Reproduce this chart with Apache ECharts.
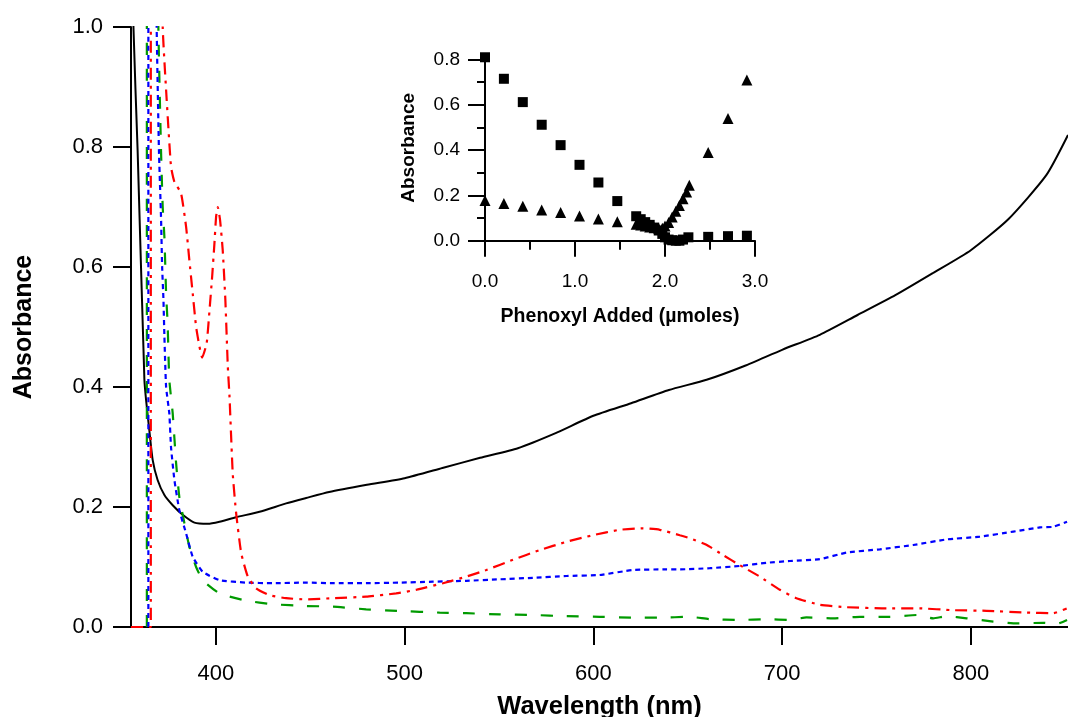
<!DOCTYPE html>
<html><head><meta charset="utf-8">
<script src="https://cdn.jsdelivr.net/npm/echarts@6/dist/echarts.min.js"></script>
<style>html,body{margin:0;padding:0;background:#fff}#c{width:1068px;height:717px}</style>
</head><body><div id="c"></div>
<script>
// ---- main chart ticks ----
const wavelengthTicks = [400, 500, 600, 700, 800];
const absorbanceTicks = [0, 0.2, 0.4, 0.6, 0.8, 1.0];
// ---- inset ticks ----
const insetXTicks = [0, 1, 2, 3];
const insetYTicks = [0, 0.2, 0.4, 0.6, 0.8];
const insetYMinorTicks = [0.1, 0.3, 0.5, 0.7];

// ---- main spectra [wavelength nm, absorbance] ----
const blackSpectrum = [[355,1.3],[356.3,1.0],[358.5,0.795],[362.1,0.412],[363.0,0.378],[364.7,0.328],[366.5,0.278],[369.1,0.245],[372.7,0.22],[377.1,0.203],[382.4,0.187],[388.6,0.174],[395.7,0.172],[401.9,0.1755],[410.7,0.183],[423.1,0.192],[437.2,0.206],[447.8,0.215],[460,0.225],[480,0.237],[500,0.248],[520,0.265],[540,0.282],[560,0.298],[580,0.323],[600,0.352],[620,0.373],[640,0.395],[660,0.412],[680,0.435],[700,0.462],[720,0.487],[740,0.52],[760,0.553],[780,0.59],[800,0.628],[820,0.68],[840,0.753],[851.5,0.82]];

const greenSpectrum = [[363.4,0],[363.4,1.3],[368.8,1.3],[369.5,1.0],[370.9,0.795],[371.8,0.70],[372.7,0.65],[373.6,0.556],[374.4,0.506],[375.3,0.412],[377.1,0.356],[378.9,0.273],[380.6,0.217],[383.3,0.173],[385.9,0.134],[389.5,0.1],[393.0,0.078],[401.9,0.056],[416.0,0.044],[430.1,0.038],[447.8,0.035],[461.9,0.034],[479.6,0.0295],[497.3,0.0267],[518.5,0.024],[532.7,0.023],[550.3,0.021],[568.0,0.02],[585.7,0.018],[603.3,0.017],[621,0.0155],[635.2,0.0155],[651.1,0.017],[661.7,0.013],[677.6,0.0117],[691.7,0.013],[704.1,0.0117],[712.9,0.016],[727,0.0145],[741.2,0.017],[757.1,0.017],[771.3,0.02],[780.1,0.0145],[787.2,0.018],[797.8,0.0145],[811.9,0.009],[824.3,0.006],[838.4,0.007],[845.5,0.005],[851,0.0117]];

const blueSpectrum = [[364.2,0],[364.2,1.3],[367.9,1.3],[368.6,1.0],[369.8,0.795],[370.9,0.684],[371.5,0.6],[372.2,0.545],[372.7,0.484],[373.6,0.4],[375.3,0.356],[376.2,0.3],[378.0,0.245],[380.6,0.195],[384.2,0.156],[387.7,0.117],[393.0,0.092],[401.9,0.078],[416.0,0.074],[430.1,0.073],[447.8,0.074],[461.9,0.073],[479.6,0.073],[497.3,0.074],[515,0.0755],[532.7,0.077],[550.3,0.0795],[568,0.082],[585.7,0.085],[603.3,0.0867],[621,0.095],[638.7,0.096],[645.8,0.096],[661.7,0.098],[677.6,0.1017],[691.7,0.107],[704.1,0.11],[720,0.113],[734.1,0.124],[751.8,0.1295],[769.5,0.1367],[787.2,0.146],[804.8,0.1505],[822.5,0.159],[836.6,0.166],[843.7,0.167],[851,0.1755]];

const redSpectrum = [[355,0],[365.5,0],[365.5,1.3],[371.2,1.3],[371.8,1.0],[373.6,0.895],[376.2,0.767],[378.0,0.742],[381.5,0.723],[384.2,0.667],[385.9,0.612],[387.7,0.556],[389.5,0.5],[391.3,0.467],[392.7,0.449],[395.1,0.473],[396.6,0.528],[398.0,0.584],[399.2,0.639],[400.1,0.684],[401.0,0.70],[402.2,0.678],[403.6,0.628],[405.0,0.545],[406.3,0.434],[407.2,0.384],[408.9,0.256],[410.7,0.19],[413.4,0.123],[416.9,0.084],[421.3,0.0645],[428.4,0.053],[437.2,0.048],[447.8,0.046],[461.9,0.048],[479.6,0.0505],[495.5,0.056],[506.2,0.062],[520.3,0.073],[532.7,0.084],[543.3,0.095],[557.4,0.112],[571.5,0.128],[585.7,0.142],[599.8,0.153],[613.9,0.162],[626.3,0.1645],[635.2,0.162],[645.8,0.153],[651.1,0.148],[659.9,0.137],[668.7,0.12],[677.6,0.103],[688.2,0.084],[698.8,0.062],[707.6,0.048],[720,0.037],[734.1,0.033],[755.4,0.031],[773,0.031],[790.7,0.028],[808.4,0.027],[829.6,0.024],[843.7,0.023],[850.8,0.031]];

// ---- inset titration [phenoxyl added (umol), absorbance] ----
const insetSquares = [[0.00,0.81],[0.21,0.715],[0.42,0.612],[0.63,0.512],[0.84,0.422],[1.05,0.335],[1.26,0.257],[1.47,0.175],[1.68,0.108],[1.73,0.095],[1.78,0.082],[1.83,0.07],[1.88,0.058],[1.93,0.045],[1.97,0.03],[2.00,0.015],[2.04,0.005],[2.08,0.002],[2.12,0.0],[2.16,0.0],[2.20,0.005],[2.26,0.015],[2.48,0.017],[2.70,0.02],[2.91,0.022]];
const insetTriangles = [[0.00,0.177],[0.21,0.164],[0.42,0.152],[0.63,0.136],[0.84,0.124],[1.05,0.109],[1.26,0.096],[1.47,0.084],[1.68,0.073],[1.73,0.069],[1.78,0.065],[1.83,0.06],[1.88,0.057],[1.93,0.055],[1.97,0.055],[2.00,0.065],[2.04,0.08],[2.08,0.105],[2.12,0.13],[2.16,0.155],[2.20,0.185],[2.24,0.215],[2.27,0.245],[2.48,0.39],[2.70,0.54],[2.91,0.71]];

const FONT = "'Liberation Sans', Arial, sans-serif";
const chart = echarts.init(document.getElementById('c'), null, {renderer: 'canvas'});
const axisLine = {show: true, onZero: false, lineStyle: {color: '#000', width: 2}};

chart.setOption({
  animation: false,
  backgroundColor: '#fff',
  grid: [
    {left: 131, right: 0, top: 27, bottom: 90, containLabel: false, outerBoundsMode: 'none'},
    {left: 485, top: 55, width: 270, height: 185.7, containLabel: false, outerBoundsMode: 'none'}
  ],
  xAxis: [
    {
      type: 'value', gridIndex: 0, min: 355, max: 851.5,
      name: 'Wavelength (nm)', nameLocation: 'middle', nameGap: 67,
      nameTextStyle: {fontFamily: FONT, fontSize: 25.5, fontWeight: 'bold', color: '#000'},
      axisLine: axisLine,
      axisTick: {show: true, inside: false, length: 18, customValues: wavelengthTicks, lineStyle: {color: '#000', width: 2}},
      axisLabel: {show: true, customValues: wavelengthTicks, margin: 36, fontFamily: FONT, fontSize: 22, color: '#000'},
      splitLine: {show: false}
    },
    {
      type: 'value', gridIndex: 1, min: 0, max: 3, interval: 1,
      name: 'Phenoxyl Added (\u00b5moles)', nameLocation: 'middle', nameGap: 66,
      nameTextStyle: {fontFamily: FONT, fontSize: 19.5, fontWeight: 'bold', color: '#000'},
      axisLine: axisLine,
      axisTick: {show: true, length: 16, lineStyle: {color: '#000', width: 2}},
      minorTick: {show: true, splitNumber: 2, length: 9, lineStyle: {color: '#000', width: 2}},
      axisLabel: {margin: 32, fontFamily: FONT, fontSize: 19, color: '#000', formatter: v => v.toFixed(1)},
      splitLine: {show: false}, minorSplitLine: {show: false}
    }
  ],
  yAxis: [
    {
      type: 'value', gridIndex: 0, min: 0, max: 1.0, interval: 0.2,
      name: 'Absorbance', nameLocation: 'middle', nameGap: 94,
      nameTextStyle: {fontFamily: FONT, fontSize: 25, fontWeight: 'bold', color: '#000'},
      axisLine: axisLine,
      axisTick: {show: true, length: 18, customValues: absorbanceTicks, lineStyle: {color: '#000', width: 2}},
      axisLabel: {customValues: absorbanceTicks, margin: 28, fontFamily: FONT, fontSize: 22, color: '#000', formatter: v => v.toFixed(1)},
      splitLine: {show: false}
    },
    {
      type: 'value', gridIndex: 1, min: 0, max: 0.82,
      name: 'Absorbance', nameLocation: 'middle', nameGap: 67,
      nameTextStyle: {fontFamily: FONT, fontSize: 19, fontWeight: 'bold', color: '#000'},
      axisLine: axisLine,
      axisTick: {show: true, length: 17, customValues: insetYTicks, lineStyle: {color: '#000', width: 2}},
      axisLabel: {customValues: insetYTicks, margin: 25, fontFamily: FONT, fontSize: 19, color: '#000', formatter: v => v.toFixed(1)},
      splitLine: {show: false}
    },
    {
      type: 'value', gridIndex: 1, min: 0, max: 0.82, position: 'left',
      axisLine: {show: false, onZero: false},
      axisTick: {show: true, length: 8, customValues: insetYMinorTicks, lineStyle: {color: '#000', width: 2}},
      axisLabel: {show: false},
      splitLine: {show: false}
    }
  ],
  series: [
    {type: 'line', xAxisIndex: 0, yAxisIndex: 0, data: blackSpectrum, showSymbol: false, clip: true, smooth: 0.2,
     lineStyle: {color: '#000', width: 2, type: 'solid'}, z: 2},
    {type: 'line', xAxisIndex: 0, yAxisIndex: 0, data: greenSpectrum, showSymbol: false, clip: true, smooth: 0.15,
     lineStyle: {color: '#009a00', width: 2.2, type: [12, 14]}, z: 3},
    {type: 'line', xAxisIndex: 0, yAxisIndex: 0, data: blueSpectrum, showSymbol: false, clip: true, smooth: 0.15,
     lineStyle: {color: '#0000ff', width: 2.2, type: [5, 4]}, z: 4},
    {type: 'line', xAxisIndex: 0, yAxisIndex: 0, data: redSpectrum, showSymbol: false, clip: true, smooth: 0.15,
     lineStyle: {color: '#ff0000', width: 2.2, type: [12, 6, 3, 6]}, z: 5},
    {type: 'scatter', xAxisIndex: 1, yAxisIndex: 1, data: insetSquares, symbol: 'rect', symbolSize: 10,
     itemStyle: {color: '#000', opacity: 1}, clip: false, z: 6},
    {type: 'scatter', xAxisIndex: 1, yAxisIndex: 1, data: insetTriangles, symbol: 'triangle', symbolSize: 11,
     itemStyle: {color: '#000', opacity: 1}, clip: false, z: 6}
  ]
});
</script>
</body></html>
